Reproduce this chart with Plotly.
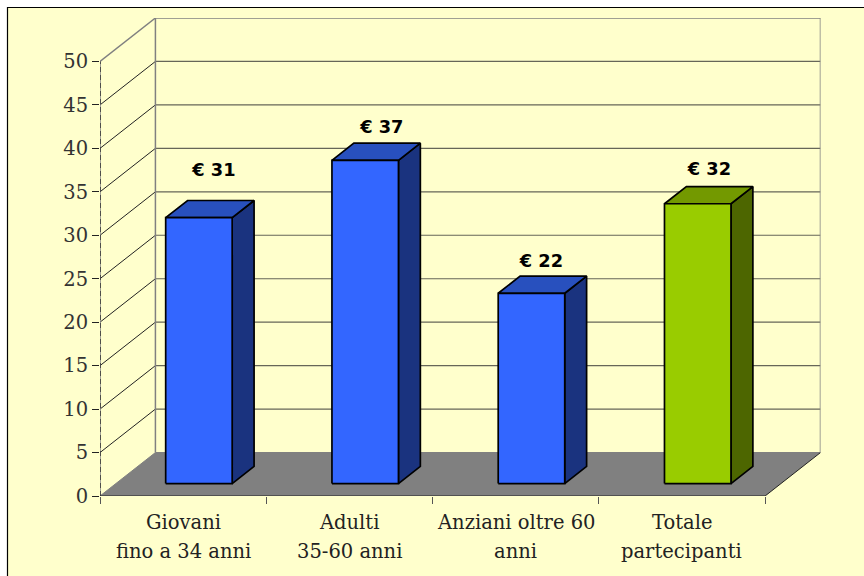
import plotly.graph_objects as go

categories_line1 = ["Giovani", "Adulti", "Anziani oltre 60", "Totale"]
categories_line2 = ["fino a 34 anni", "35-60 anni", "anni", "partecipanti"]
values = [30.6, 37.2, 21.9, 32.2]
value_labels = ["€ 31", "€ 37", "€ 22", "€ 32"]
y_ticks = [0, 5, 10, 15, 20, 25, 30, 35, 40, 45, 50]

label_dx = [0.09, 0.10, 0.06, 0.07]
label_dy = [6.7, 5.1, 5.0, 5.2]

FRONT = ["#3366FF", "#3366FF", "#3366FF", "#99CC00"]
TOP = ["#2850BE", "#2850BE", "#2850BE", "#739900"]
SIDE = ["#1A337F", "#1A337F", "#1A337F", "#4D6600"]
BG = "#FFFFCC"
GRAY = "#808080"

W, H = 864, 576
L, R, T, B = 100, 820.5, 18, 496
DX, DY = 1 / 3, 5  # oblique depth in data units
N = len(values)
YMAX = 50 + DY
XMAX = N + DX


def proj(x, y, d):
    return x + DX * d, y + DY * d


def poly(pts, fill=None, line=None, width=1, dash=None):
    xs = [p[0] for p in pts]
    ys = [p[1] for p in pts]
    return go.Scatter(x=xs, y=ys, mode="lines" if line else "none",
                      fill="toself" if fill else None, fillcolor=fill,
                      line=dict(color=line, width=width, dash=dash) if line else None,
                      hoverinfo="skip", showlegend=False)


fig = go.Figure()

# floor
fig.add_trace(poly([proj(0, 0, 0), proj(N, 0, 0), proj(N, 0, 1), proj(0, 0, 1), proj(0, 0, 0)], fill=GRAY))

# grid: side wall diagonals and back wall
for t in y_ticks:
    fig.add_trace(poly([proj(0, t, 0), proj(0, t, 1)], line=GRAY if t in (0, 50) else "#222222",
                       width=1.5 if t == 50 else 1))
    fig.add_trace(poly([proj(0, t, 1), proj(N, t, 1)], line=GRAY if t in (0, 50) else "#666658",
                       width=1.5 if t == 50 else 1.2))
fig.add_trace(poly([proj(0, 0, 1), proj(0, 50, 1)], line=GRAY, width=1.5))
fig.add_trace(poly([proj(N, 0, 1), proj(N, 50, 1)], line=GRAY, width=1.5))
fig.add_trace(poly([proj(N, 0, 0), proj(N, 0, 1)], line="#222222", width=1))

# axes lines
fig.add_trace(poly([(0, 0), (0, 50)], line=GRAY, width=1.5))
fig.add_trace(poly([(0, 0), (0, 50)], line="#333333", width=1.5, dash="5px,3px"))
fig.add_trace(poly([(0, 0), (N, 0)], line="#222222", width=1))

# bars
hw, d0, d1 = 0.2, 0.285, 0.68
for i, v in enumerate(values):
    c = i + 0.5
    xl, xr = c - hw, c + hw
    fig.add_trace(poly([proj(xr, 0, d0), proj(xr, 0, d1), proj(xr, v, d1), proj(xr, v, d0), proj(xr, 0, d0)],
                       fill=SIDE[i], line="#000000", width=1.7))
    fig.add_trace(poly([proj(xl, v, d0), proj(xr, v, d0), proj(xr, v, d1), proj(xl, v, d1), proj(xl, v, d0)],
                       fill=TOP[i], line="#000000", width=1.7))
    fig.add_trace(poly([proj(xl, 0, d0), proj(xr, 0, d0), proj(xr, v, d0), proj(xl, v, d0), proj(xl, 0, d0)],
                       fill=FRONT[i], line="#000000", width=1.7))

# value labels
fig.add_trace(go.Scatter(
    x=[i + 0.5 + DX * d0 + label_dx[i] for i in range(N)],
    y=[values[i] + label_dy[i] for i in range(N)],
    mode="text", text=value_labels, textposition="middle center",
    textfont=dict(family="DejaVu Sans", size=17.8, color="#000000", weight="bold"),
    hoverinfo="skip", showlegend=False))

# category labels, two separately spaced lines
annos = []
for i in range(N):
    for text, yshift in ((categories_line1[i], -26), (categories_line2[i], -55)):
        annos.append(dict(x=i + 0.5, y=0, xref="x", yref="y", text=text, showarrow=False,
                          xanchor="center", yanchor="middle", yshift=yshift,
                          font=dict(family="DejaVu Serif", size=19.5, color="#222222")))

fig.update_layout(
    width=W, height=H, autosize=False,
    margin=dict(l=0, r=0, t=0, b=0),
    paper_bgcolor="#FFFFFF", plot_bgcolor="rgba(0,0,0,0)",
    showlegend=False, annotations=annos,
    shapes=[dict(type="rect", xref="paper", yref="paper", layer="below",
                 x0=7.5 / W, x1=1.01, y0=-0.05, y1=1 - 7.5 / H,
                 fillcolor=BG, line=dict(color="#000000", width=1.2))],
    xaxis=dict(domain=[L / W, R / W], range=[0, XMAX], tickvals=list(range(N + 1)),
               ticktext=[""] * (N + 1), ticks="outside", ticklen=7, tickcolor="#555555",
               showgrid=False, zeroline=False, showline=False, automargin=False),
    yaxis=dict(domain=[1 - B / H, 1 - T / H], range=[0, YMAX], tickvals=y_ticks,
               ticks="outside", ticklen=7, tickcolor="#222222", tickwidth=1.2,
               showgrid=False, zeroline=False, showline=False, automargin=False,
               tickfont=dict(family="DejaVu Serif", size=19.5, color="#333333")),
)

fig.write_html("out.html", config={"displayModeBar": False, "responsive": False},
               post_script="document.body.style.margin='0';Plotly.relayout(document.querySelector('.plotly-graph-div'),{width:864,height:576});")
